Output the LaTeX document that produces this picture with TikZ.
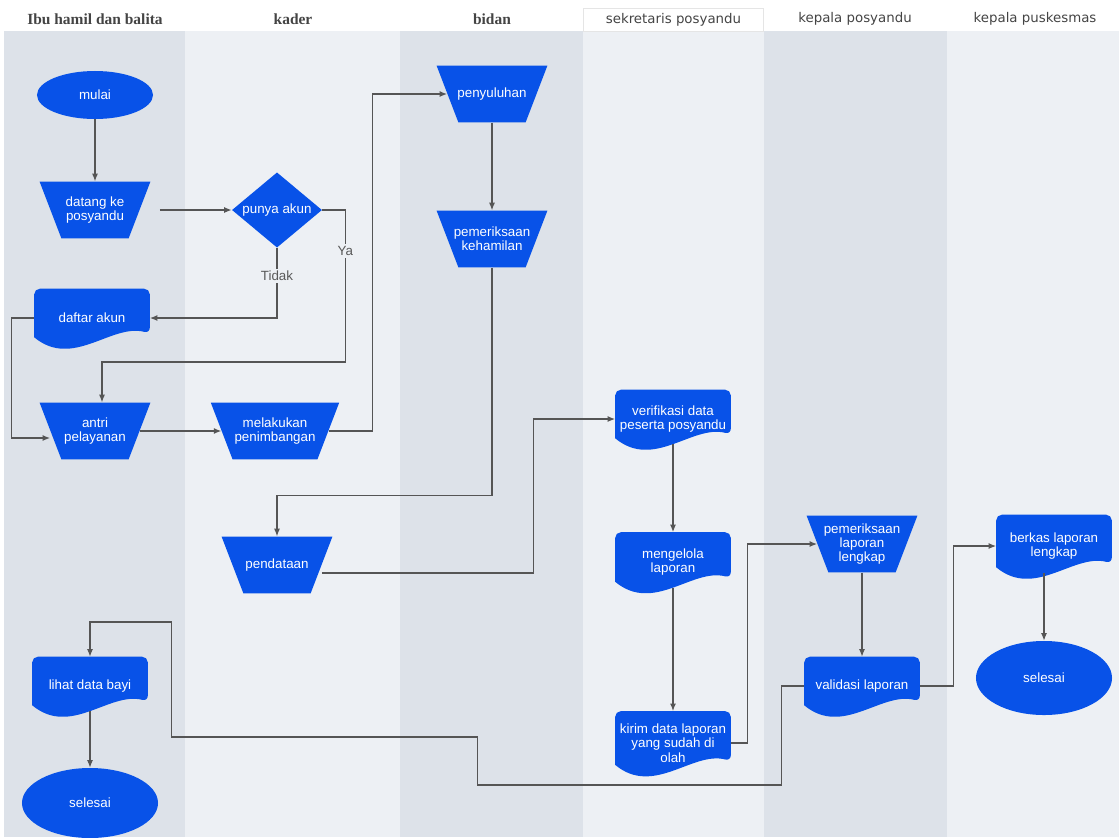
\documentclass[tikz,border=0pt]{standalone}
\usepackage{fontspec}
\setmainfont{Liberation Sans}
\newfontfamily\laneSerif{Liberation Serif}
\newfontfamily\laneSans{DejaVu Sans}
\usetikzlibrary{shapes.geometric, arrows.meta, calc, backgrounds}
\definecolor{cBlockFill}{RGB}{8, 82, 232}
\definecolor{cLaneDark}{RGB}{221, 226, 233}
\definecolor{cLaneLight}{RGB}{237, 240, 244}
\definecolor{cHeadText}{RGB}{68, 68, 68}
\definecolor{lineColor}{RGB}{85, 85, 85}
\pgfdeclarelayer{docLayer}
\pgfsetlayers{background,docLayer,main}
\tikzset{
    % --- text styles ---
    txtW/.style={text=white, align=center, font=\fontsize{9.5}{10.2}\selectfont},
    styleHeadSerif/.style={text=cHeadText, font=\laneSerif\bfseries\fontsize{11}{13}\selectfont},
    styleHeadSans/.style={text=cHeadText, font=\laneSans\fontsize{9.5}{11}\selectfont},
    % --- block styles ---
    baseBlock/.style={fill=cBlockFill, draw=none},
    styleTerm/.style={
        baseBlock, ellipse, txtW,
        minimum width=2.9cm, minimum height=1.2cm
    },
    % trapezium: empty node, size from inner sep, text as label
    styleTrap/.style={
        baseBlock, trapezium, shape border rotate=180,
        trapezium left angle=69, trapezium right angle=69,
        inner xsep=0.84cm, inner ysep=0.71cm
    },
    styleDecide/.style={
        baseBlock, diamond, inner sep=0pt,
        minimum width=2.25cm, minimum height=1.88cm
    },
    % document: text node only, the wavy fill is drawn on docLayer
    styleDoc/.style={
        rectangle, txtW, inner sep=1pt,
        minimum width=2.875cm, minimum height=1.45cm
    },
    % --- connectors ---
    conn/.style={
        draw=lineColor, line width=0.9pt,
        -{Latex[length=1.9mm, width=1.5mm]}
    },
    fromDoc/.style={shorten <=-0.1cm},
    edgeLbl/.style={
        fill=cLaneLight, text=black!65, inner sep=1.5pt,
        font=\fontsize{9.5}{11}\selectfont
    }
}

\begin{document}
\begin{tikzpicture}[x=0.025cm, y=-0.025cm]
	\useasboundingbox (0,0) rectangle (1119,837);

	% =========================================================
	% 1. Lanes
	% =========================================================
	\begin{scope}[on background layer]
		\foreach \xa/\xb/\cl in {4/185/cLaneDark, 185/400/cLaneLight, 400/583/cLaneDark,
				583/764/cLaneLight, 764/947/cLaneDark, 947/1119/cLaneLight}
			\fill [\cl] (\xa,31) rectangle (\xb,837);
	\end{scope}

	\node [styleHeadSerif] (h1) at (95,19) {Ibu hamil dan balita};
	\node [styleHeadSerif] (h2) at (293,19) {kader};
	\node [styleHeadSerif] (h3) at (492,19) {bidan};
	\node [styleHeadSans, draw=black!10, minimum width=4.5cm, minimum height=0.58cm] (h4) at (673.5,19.5) {sekretaris posyandu};
	\node [styleHeadSans] (h5) at (855,19) {kepala posyandu};
	\node [styleHeadSans] (h6) at (1035,19) {kepala puskesmas};

	% =========================================================
	% 2. Steps
	% =========================================================

	% --- Lane 1 / 2: start, account check ---
	\node [styleTerm] (l1_mulai) at (95,95) {mulai};
	\node [styleTrap, label={[txtW]center:datang ke\\posyandu}] (l1_datang) at (95,210) {};
	\node [styleDecide, label={[txtW]center:punya akun}] (l2_akun) at (277,210) {};
	\node [styleDoc] (l1_daftar) at (92,318) {daftar akun};
	\node [styleTrap, label={[txtW]center:antri\\pelayanan}] (l1_antri) at (95,431) {};
	\node [styleTrap, inner xsep=1.06cm, label={[txtW]center:melakukan\\penimbangan}] (l2_timbang) at (275,431) {};

	% --- Lane 3: bidan ---
	\node [styleTrap, label={[txtW]center:penyuluhan}] (l3_suluh) at (492,94) {};
	\node [styleTrap, label={[txtW]center:pemeriksaan\\kehamilan}] (l3_hamil) at (492,239) {};
	\node [styleTrap, label={[txtW]center:pendataan}] (l2_data) at (277,565) {};

	% --- Lane 4: sekretaris ---
	\node [styleDoc] (l4_verif) at (673,419) {verifikasi data\\peserta posyandu};
	\node [styleDoc, minimum height=1.475cm] (l4_kelola) at (673,562) {mengelola\\laporan};
	\node [styleDoc, minimum height=1.58cm] (l4_kirim) at (673,743) {kirim data laporan\\yang sudah di\\olah};

	% --- Lane 5 / 6: kepala ---
	\node [styleTrap, label={[txtW]center:pemeriksaan\\laporan\\lengkap}] (l5_periksa) at (862,544) {};
	\node [styleDoc] (l5_valid) at (862,686) {validasi laporan};
	\node [styleDoc, minimum height=1.55cm] (l6_berkas) at (1054,546) {berkas laporan\\lengkap};
	\node [styleTerm, minimum width=3.4cm, minimum height=1.85cm] (l6_selesai) at (1044,678) {selesai};

	% --- Lane 1: end ---
	\node [styleDoc] (l1_lihat) at (90,686) {lihat data bayi};
	\node [styleTerm, minimum width=3.4cm, minimum height=1.75cm] (l1_selesai) at (90,803) {selesai};

	% document outlines
	\begin{pgfonlayer}{docLayer}
		\foreach \d in {l1_daftar, l4_verif, l4_kelola, l4_kirim, l5_valid, l6_berkas, l1_lihat}
			\fill [cBlockFill, rounded corners=4pt]
				($(\d.south west)+(0,-10)$) -- (\d.north west) -- (\d.north east)
				-- ($(\d.south east)+(0,-14)$) [sharp corners]
				.. controls ($(\d.south east)!0.333!(\d.south west)+(0,-24)$)
				and ($(\d.south east)!0.667!(\d.south west)+(0,22)$) .. cycle;
	\end{pgfonlayer}

	% =========================================================
	% 3. Connectors
	% =========================================================
	\draw [conn] (l1_mulai) -- (l1_datang);
	\draw [conn, shorten <=0.5cm] (l1_datang.east) -- (l2_akun.west);
	\draw [conn] (l2_akun.south) |- node [edgeLbl, pos=0.2] {Tidak} (l1_daftar.east);
	\draw [conn] (l2_akun.east) -- ++(23,0) -- node [edgeLbl, pos=0.27] {Ya} ++(0,152) -| ($(l1_antri.north)+(7,0)$);
	\draw [conn] (l1_daftar.west) -- ++(-23,0) |- ($(l1_antri.west)+(0,7)$);
	\draw [conn] (l1_antri.east) -- (l2_timbang.west);
	\draw [conn] (l2_timbang.east) -- ++(44,0) |- (l3_suluh.west);
	\draw [conn] (l3_suluh) -- (l3_hamil);
	\draw [conn] (l3_hamil.south) -- ++(0,228) -| (l2_data.north);
	\draw [conn] ($(l2_data.east)+(0,8)$) -- ++(212,0) |- (l4_verif.west);
	\draw [conn, fromDoc] (l4_verif) -- (l4_kelola);
	\draw [conn, fromDoc] (l4_kelola) -- (l4_kirim);
	\draw [conn] (l4_kirim.east) -- ++(17,0) |- (l5_periksa.west);
	\draw [conn] (l5_periksa) -- (l5_valid);
	\draw [conn] (l5_valid.east) -- ++(34,0) |- (l6_berkas.west);
	\draw [conn, fromDoc] (l6_berkas.south -| l6_selesai.north) -- (l6_selesai.north);
	\draw [conn] (l5_valid.west) -- ++(-23,0) -- ++(0,99) -- ++(-304,0) -- ++(0,-48)
		-- ++(-306,0) -- ++(0,-115) -| (l1_lihat.north);
	\draw [conn, fromDoc] (l1_lihat) -- (l1_selesai);

\end{tikzpicture}
\end{document}
